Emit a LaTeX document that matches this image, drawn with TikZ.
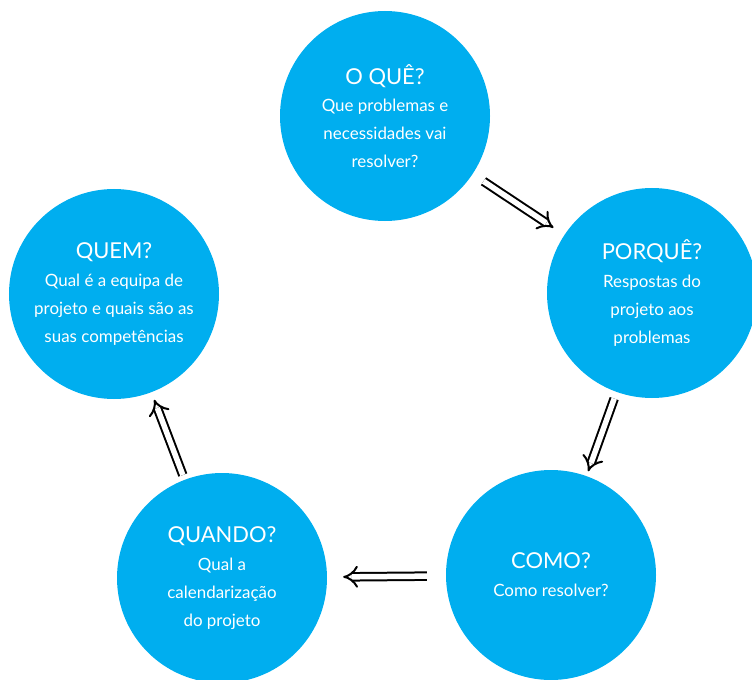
\documentclass[tikz,border=0pt]{standalone}
\usepackage{fontspec}
\setmainfont{Lato}
\usetikzlibrary{arrows.meta}
\definecolor{azul}{RGB}{0,174,239}
\newcommand{\titulo}[1]{{\fontsize{22}{28}\selectfont #1}}
\tikzset{
  etapa/.style={circle,fill=azul,text=white,minimum size=210bp,inner sep=0pt,align=center,font=\fontsize{17}{28}\selectfont},
  seta/.style={double,double distance=5.5bp,line width=2bp,-{Implies}},
}

\begin{document}
\begin{tikzpicture}[x=1bp,y=-1bp]
        \useasboundingbox (0,0) rectangle (752,680);
        \node[etapa] (oque) at (385,116) {\titulo{O QUÊ?}\\ Que problemas e\\ necessidades vai\\ resolver?};
        \node[etapa] (porque) at (652,293) {\titulo{PORQUÊ?}\\ Respostas do\\ projeto aos\\ problemas};
        \draw[seta,shorten <=13bp,shorten >=13bp] (oque) -- (porque);
        \node[etapa] (como) at (551,575) {\titulo{COMO?}\\ Como resolver?};
        \draw[seta,shorten <=7bp,shorten >=5bp] (porque) -- (como);
        \node[etapa] (quando) at (222,578) {\titulo{QUANDO?}\\ Qual a\\ calendarização\\ do projeto};
        \draw[seta,shorten <=19bp,shorten >=16bp] (como) -- (quando);
        \node[etapa] (quem) at (114,294) {\titulo{QUEM?}\\ Qual é a equipa de\\ projeto e quais são as\\ suas competências};
        \draw[seta,shorten <=5bp,shorten >=8bp] (quando) -- (quem);
      \end{tikzpicture}
\end{document}
